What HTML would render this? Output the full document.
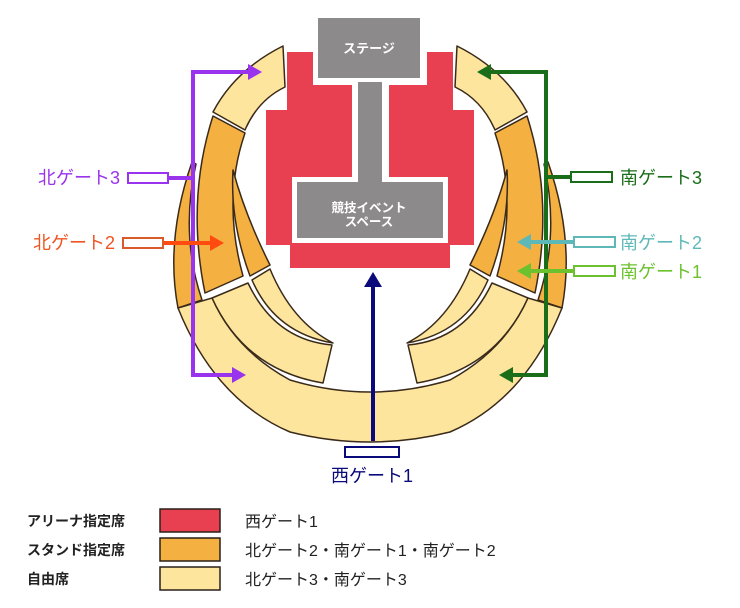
<!DOCTYPE html>
<html><head><meta charset="utf-8"><style>
html,body{margin:0;padding:0;background:#fff;}
svg{display:block;}
text{font-family:"Liberation Sans","Noto Sans CJK JP",sans-serif;}
</style></head><body>
<svg width="740" height="608" viewBox="0 0 740 608" xmlns="http://www.w3.org/2000/svg">
<g id="half" stroke="#3a2a1a" stroke-width="1.5" stroke-linejoin="round">
  <path d="M192,162 Q165,240 178,308 L202,300 Q180,235 196,164 Z" fill="#f4b041"/>
  <path d="M213,116 Q186,200 205,293 L243,276 Q222,200 245,133 Z" fill="#f4b041"/>
  <path d="M233,170 Q230,222 250,276 L270,265 Q245,215 233,170 Z" fill="#f4b041"/>
  <path d="M283,46 L285,87 Q258,100 245,130 L213,112 Q235,70 283,46 Z" fill="#fde59e"/>
  <path d="M212,298 L248,283 Q275,340 332,345 L323,383 Q245,370 212,298 Z" fill="#fde59e"/>
  <path d="M252,280 L270,269 Q292,322 333,343 Q275,333 252,280 Z" fill="#fde59e"/>
</g>
<use href="#half" transform="translate(740,0) scale(-1,1)"/>
<path d="M178,308 L212,298 Q235,350 290,380 Q330,392 370,392 Q410,392 450,380 Q505,350 528,298 L562,308 Q525,400 450,432 Q410,442 370,442 Q330,442 290,432 Q215,400 178,308 Z" fill="#fde59e" stroke="#3a2a1a" stroke-width="1.5"/>
<!-- arena -->
<polygon points="287,52 313,52 313,85 427,85 427,52 453,52 453,110 474,110 474,245 450,245 450,268 290,268 290,245 266,245 266,110 287,110" fill="#e84050"/>
<rect x="352" y="76" width="37" height="104" fill="#fff"/>
<rect x="292" y="177" width="156" height="66" fill="#fff"/>
<rect x="297" y="182" width="146" height="56" fill="#8c8a8b"/>
<rect x="358" y="76" width="24" height="108" fill="#8c8a8b"/>
<rect x="314" y="17" width="110" height="65" fill="#fff"/>
<rect x="318" y="18" width="102" height="60" fill="#8c8a8b"/>
<text x="369" y="53" fill="#fff" font-size="13" font-weight="bold" text-anchor="middle">ステージ</text>
<text x="369" y="212" fill="#fff" font-size="12.5" font-weight="bold" text-anchor="middle">競技イベント</text>
<text x="369" y="226" fill="#fff" font-size="12.5" font-weight="bold" text-anchor="middle">スペース</text>
<!-- purple -->
<g stroke="#9933ee" stroke-width="4" fill="none">
  <path d="M250,72 L193,72 L193,375 L236,375"/>
  <path d="M168,178 L193,178"/>
</g>
<polygon points="262,72 248,64 248,80" fill="#9933ee"/>
<polygon points="246,375 232,367 232,383" fill="#9933ee"/>
<rect x="128" y="173" width="40" height="10" fill="#fff" stroke="#9933ee" stroke-width="2"/>
<text x="120" y="184" fill="#9933ee" font-size="18" text-anchor="end">北ゲート3</text>
<!-- orange -->
<path d="M163,243 L212,243" stroke="#ff4a10" stroke-width="4"/>
<polygon points="224,243 210,235 210,251" fill="#ff4a10"/>
<rect x="123" y="238" width="40" height="10" fill="#fff" stroke="#d95a2a" stroke-width="2"/>
<text x="115" y="249" fill="#ee5522" font-size="18" text-anchor="end">北ゲート2</text>
<!-- green -->
<g stroke="#1a6e1a" stroke-width="4" fill="none">
  <path d="M488,72 L546,72 L546,375 L510,375"/>
  <path d="M546,177 L571,177"/>
</g>
<polygon points="477,72 491,64 491,80" fill="#1a6e1a"/>
<polygon points="499,375 513,367 513,383" fill="#1a6e1a"/>
<rect x="571" y="172" width="41" height="10" fill="#fff" stroke="#1a6e1a" stroke-width="2"/>
<text x="620" y="184" fill="#1a6e1a" font-size="18">南ゲート3</text>
<!-- teal -->
<path d="M573,242 L528,242" stroke="#5fb8b8" stroke-width="4"/>
<polygon points="517,242 531,234 531,250" fill="#5fb8b8"/>
<rect x="574" y="237" width="41" height="10" fill="#fff" stroke="#5fb8b8" stroke-width="2"/>
<text x="620" y="249" fill="#5fb8b8" font-size="18">南ゲート2</text>
<!-- lime -->
<path d="M573,271 L528,271" stroke="#6cc22e" stroke-width="4"/>
<polygon points="517,271 531,263 531,279" fill="#6cc22e"/>
<rect x="574" y="266" width="41" height="10" fill="#fff" stroke="#6cc22e" stroke-width="2"/>
<text x="620" y="278" fill="#6cc22e" font-size="18">南ゲート1</text>
<!-- navy -->
<path d="M373,441 L373,285" stroke="#0a0a7a" stroke-width="4"/>
<polygon points="373,272 364,287 382,287" fill="#0a0a7a"/>
<rect x="345" y="447" width="54" height="10" fill="#fff" stroke="#0a0a7a" stroke-width="2"/>
<text x="372" y="482" fill="#0a0a7a" font-size="18" text-anchor="middle">西ゲート1</text>
<!-- legend -->
<g font-size="14" font-weight="bold" fill="#222">
  <text x="27" y="526">アリーナ指定席</text>
  <text x="27" y="555">スタンド指定席</text>
  <text x="27" y="584">自由席</text>
</g>
<g stroke="#2a2018" stroke-width="1.5">
  <rect x="160" y="509" width="60" height="23" fill="#e84050"/>
  <rect x="160" y="538" width="60" height="23" fill="#f4b041"/>
  <rect x="160" y="567" width="60" height="23" fill="#fde59e"/>
</g>
<g font-size="16" fill="#222">
  <text x="245" y="527">西ゲート1</text>
  <text x="245" y="556">北ゲート2・南ゲート1・南ゲート2</text>
  <text x="245" y="585">北ゲート3・南ゲート3</text>
</g>
</svg>
</body></html>
